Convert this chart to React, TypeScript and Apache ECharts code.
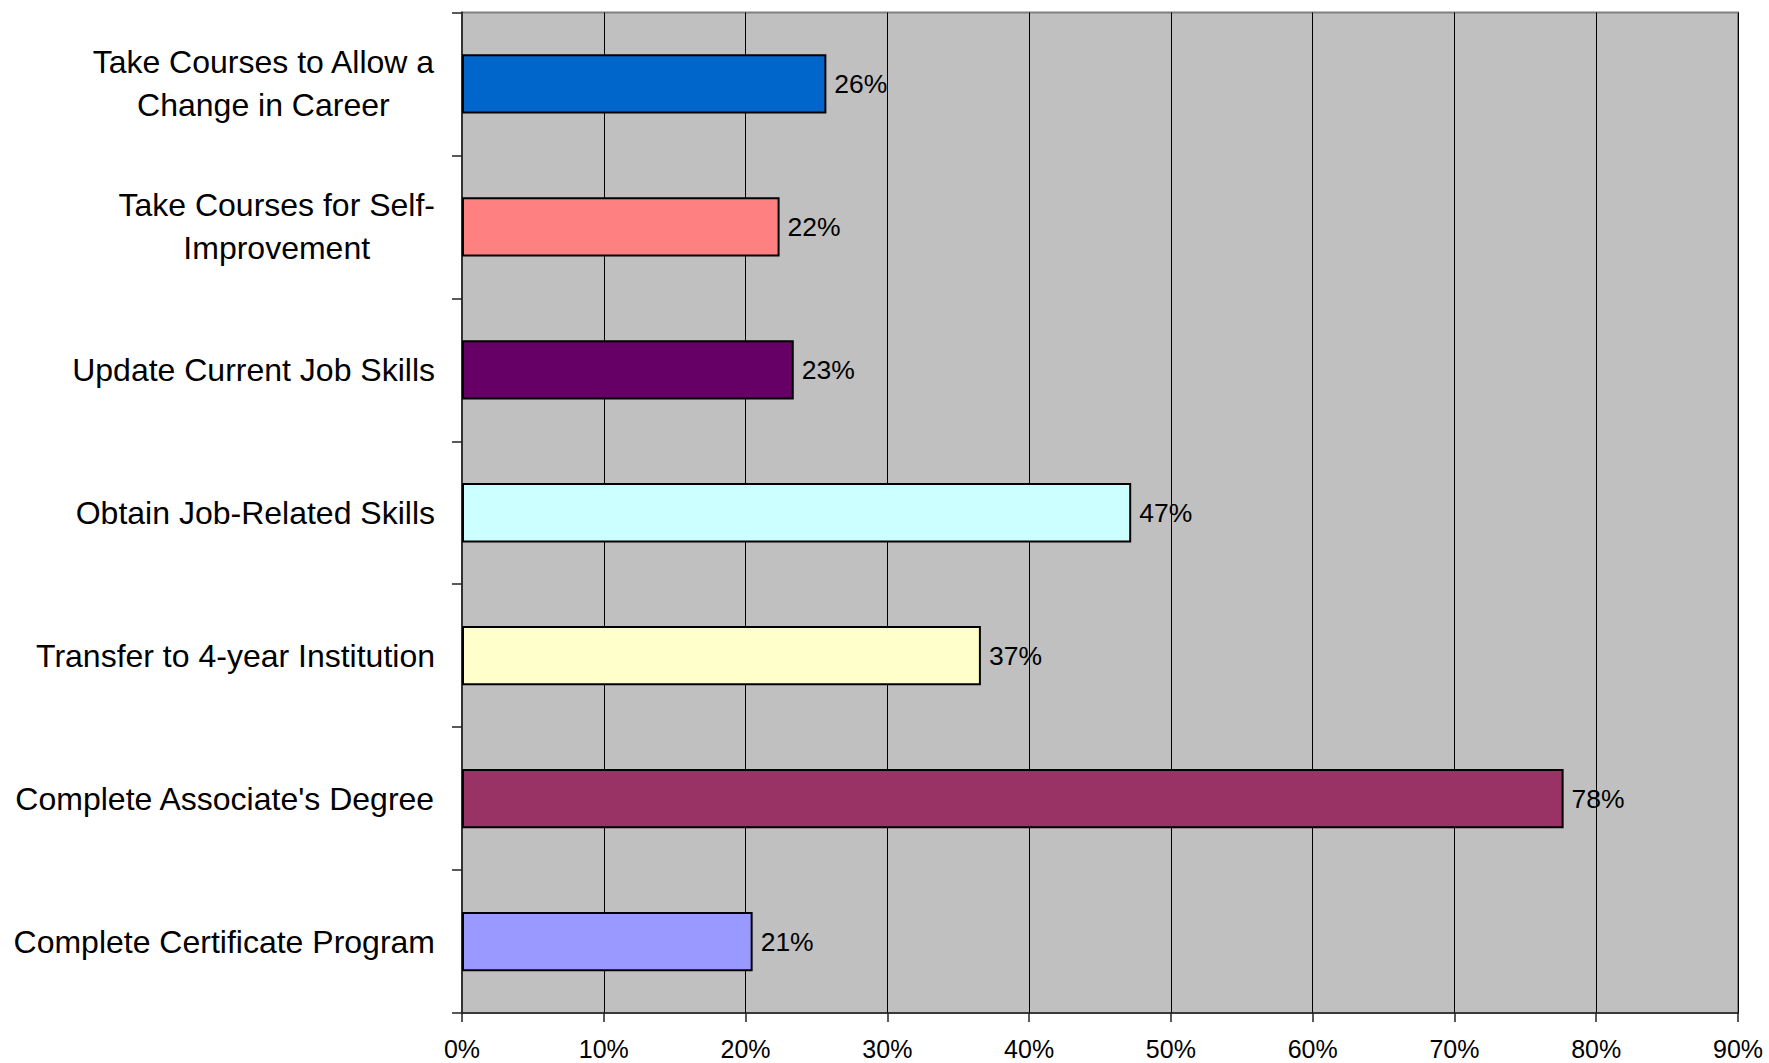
import React, { useEffect, useRef } from "react";
import * as echarts from "echarts";

const categories = [
  "Take Courses to Allow a\nChange in Career",
  "Take Courses for Self-\nImprovement",
  "Update Current Job Skills",
  "Obtain Job-Related Skills",
  "Transfer to 4-year Institution",
  "Complete Associate's Degree",
  "Complete Certificate Program",
];
const values = [25.7, 22.4, 23.4, 47.2, 36.6, 77.7, 20.5];
const barColors = ["#0066CC", "#FF8080", "#660066", "#CCFFFF", "#FFFFCC", "#993366", "#9999FF"];
const xTicks = { min: 0, max: 90, interval: 10 };

const FONT = "'Liberation Sans', Arial, Helvetica, sans-serif";

export default function App() {
  const ref = useRef<HTMLDivElement>(null);
  useEffect(() => {
    if (!ref.current) return;
    const chart = echarts.init(ref.current, null, { renderer: "svg" });
    chart.setOption({
      animation: false,
      backgroundColor: "#ffffff",
      grid: {
        left: 462,
        top: 12.5,
        right: 31,
        bottom: 50,
        show: true,
        backgroundColor: "#C0C0C0",
        borderColor: "#808080",
        borderWidth: 2,
      },
      xAxis: {
        type: "value",
        min: xTicks.min,
        max: xTicks.max,
        interval: xTicks.interval,
        axisLine: { show: true, lineStyle: { color: "#222", width: 1.5 } },
        axisTick: { show: true, length: 9, lineStyle: { color: "#222", width: 1.5 } },
        splitLine: { show: true, lineStyle: { color: "#000", width: 1 } },
        axisLabel: {
          formatter: "{value}%",
          fontFamily: FONT,
          fontSize: 25,
          lineHeight: 25,
          color: "#000",
          margin: 23,
        },
      },
      yAxis: {
        type: "category",
        data: categories,
        inverse: true,
        axisLine: { show: true, lineStyle: { color: "#333", width: 2 } },
        axisTick: { show: true, length: 10, lineStyle: { color: "#222", width: 1.5 } },
        splitLine: { show: false },
        axisLabel: {
          margin: 27,
          color: "#000",
          fontFamily: FONT,
          fontSize: 32,
          lineHeight: 43,
          formatter: (v: string) =>
            v
              .split("\n")
              .map((l) => `{c|${l}}`)
              .join("\n"),
          rich: {
            c: {
              align: "center",
              fontFamily: FONT,
              fontSize: 32,
              lineHeight: 43,
              color: "#000",
            },
          },
        },
      },
      series: [
        {
          type: "bar",
          data: values.map((v, i) => ({
            value: v,
            itemStyle: { color: barColors[i] },
          })),
          barWidth: "41.5%",
          itemStyle: { borderColor: "#000", borderWidth: 2 },
          label: {
            show: true,
            position: "right",
            distance: 8,
            formatter: (p: any) => `${Math.round(p.value)}%`,
            fontFamily: FONT,
            fontSize: 26.5,
            color: "#000",
          },
        },
      ],
    });
    return () => chart.dispose();
  }, []);
  return (
    <div
      ref={ref}
      style={{ position: "fixed", left: 0, top: 0, width: 1769, height: 1063 }}
    />
  );
}
